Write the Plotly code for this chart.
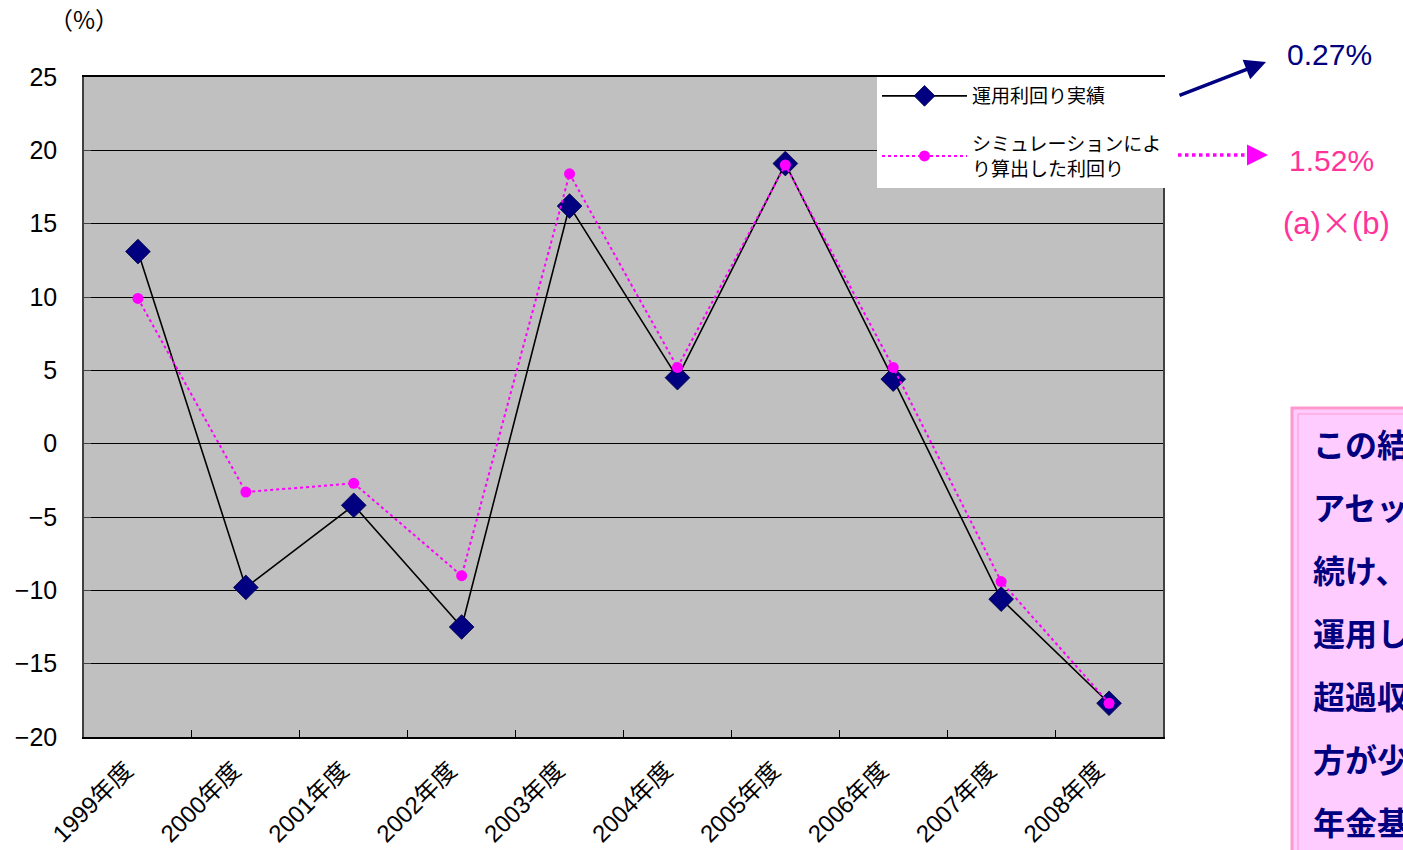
import plotly.graph_objects as go

categories = ["1999年度", "2000年度", "2001年度", "2002年度", "2003年度",
              "2004年度", "2005年度", "2006年度", "2007年度", "2008年度"]
actual = [13.1, -9.8, -4.2, -12.5, 16.2, 4.5, 19.1, 4.4, -10.6, -17.7]
simulated = [9.9, -3.3, -2.7, -9.0, 18.4, 5.2, 19.0, 5.2, -9.4, -17.7]
series_names = ["運用利回り実績", "シミュレーションによ<br>り算出した利回り"]
box_lines = ["この結果から、", "アセットミックスを", "続け、パッシブで", "運用していれば、",
             "超過収益率が", "方が少なく、", "年金基金の"]

W, H = 1403, 850
L, R, T, B = 84, 1163, 77, 737
FONT = "Liberation Sans, Arial, Noto Sans CJK JP"


def px(x):
    return (x - L) / (R - L)


def py(y):
    return (B - y) / (B - T)


fig = go.Figure()
fig.add_trace(go.Scatter(
    x=categories, y=actual, name=series_names[0], mode="lines+markers",
    legendgroup="a",
    line=dict(color="black", width=1.6),
    marker=dict(symbol="diamond", size=19, color="#000080",
                line=dict(color="#000040", width=0.8)),
))
fig.add_trace(go.Scatter(
    x=categories, y=simulated, name=series_names[1], mode="lines+markers",
    legendgroup="b",
    line=dict(color="#ff00ff", width=2, dash="dot"),
    marker=dict(symbol="circle", size=11, color="#ff00ff"),
))

shapes = []
shapes.append(dict(type="line", xref="paper", yref="paper",
                   x0=px(1178), y0=py(155), x1=px(1252), y1=py(155),
                   line=dict(color="#ff00ff", width=3.5, dash="dot")))
shapes.append(dict(type="rect", xref="paper", yref="paper",
                   x0=px(1292), y0=py(408), x1=px(1440), y1=py(880),
                   fillcolor="#ffccff", line=dict(color="#ff99cc", width=3), layer="above"))
shapes.append(dict(type="rect", xref="paper", yref="paper",
                   x0=px(1298), y0=py(414), x1=px(1440), y1=py(880),
                   fillcolor="rgba(0,0,0,0)", line=dict(color="#ff99cc", width=1), layer="above"))

annotations = [
    dict(text="（%）", xref="paper", yref="paper", x=px(84), y=py(19),
         xanchor="center", yanchor="middle",
         showarrow=False, font=dict(family="Noto Sans CJK JP", size=24, color="black")),
    dict(text="", xref="paper", yref="paper", x=px(1266), y=py(62),
         ax=-88, ay=34, axref="pixel", ayref="pixel",
         showarrow=True, arrowhead=2, arrowsize=1.2, arrowwidth=3.5, arrowcolor="#000080"),
    dict(text="", xref="paper", yref="paper", x=px(1268), y=py(155),
         ax=-20, ay=0, showarrow=True, arrowhead=2, arrowsize=1.2,
         arrowwidth=3.5, arrowcolor="#ff00ff"),
    dict(text="0.27%", xref="paper", yref="paper", x=px(1285), y=py(55),
         xanchor="left", yanchor="middle", showarrow=False,
         font=dict(family=FONT, size=30, color="#000080")),
    dict(text="1.52%", xref="paper", yref="paper", x=px(1287), y=py(160),
         xanchor="left", yanchor="middle", showarrow=False,
         font=dict(family=FONT, size=30, color="#ff3399")),
    dict(text="(a)<span style='font-family:Noto Sans CJK JP'>×</span>(b)",
         xref="paper", yref="paper", x=px(1281), y=py(220),
         xanchor="left", yanchor="middle", showarrow=False,
         font=dict(family=FONT, size=31, color="#ff3399")),
]
for i, t in enumerate(box_lines):
    annotations.append(dict(
        text="<b>" + t + "</b>", xref="paper", yref="paper",
        x=px(1311), y=py(443 + i * 63), xanchor="left", yanchor="middle",
        showarrow=False, font=dict(family="Noto Sans CJK JP", size=32, color="#000080")))

fig.update_layout(
    width=W, height=H,
    margin=dict(l=L, r=W - R, t=T, b=H - B, autoexpand=False),
    paper_bgcolor="white", plot_bgcolor="#c0c0c0",
    font=dict(family=FONT, color="black"),
    showlegend=True,
    legend=dict(x=px(877), y=1, xanchor="left", yanchor="top",
                bgcolor="white", borderwidth=0, traceorder="grouped",
                font=dict(family=FONT + ", Noto Sans CJK JP", size=19),
                tracegroupgap=20, itemwidth=85),
    shapes=shapes, annotations=annotations,
)
fig.update_xaxes(
    type="category", range=[-0.5, 9.5], tickson="boundaries", ticks="inside", ticklen=7,
    tickcolor="black", tickangle=-45, ticklabelstandoff=8, ticklabelshift=-12,
    tickfont=dict(family=FONT + ", Noto Sans CJK JP", size=24),
    showline=True, linecolor="black", linewidth=1.5, mirror=True,
    showgrid=False, zeroline=False,
)
fig.update_yaxes(
    range=[-20, 25], dtick=5, ticks="inside", ticklen=7, tickcolor="#404040",
    tickfont=dict(family=FONT, size=25), ticklabelstandoff=20,
    showline=True, linecolor="#404040", linewidth=1.5, mirror=True,
    showgrid=True, gridcolor="black", gridwidth=1, zeroline=False,
)

fig.write_html("out.html", post_script="document.body.style.margin='0';",
               config={"displayModeBar": False})
